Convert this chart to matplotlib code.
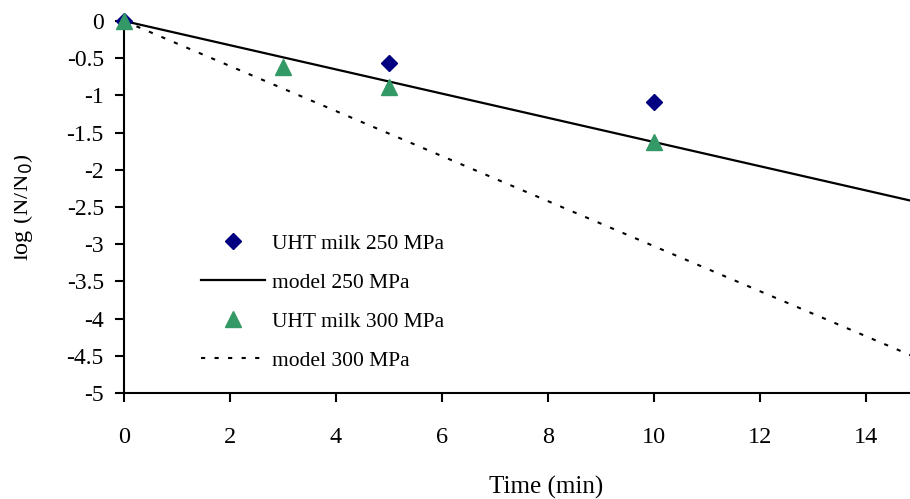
import matplotlib.pyplot as plt
from matplotlib.patches import Rectangle

# data
time_250 = [0, 5, 10]
logn_250 = [0, -0.57, -1.09]
time_300 = [0, 3, 5, 10]
logn_300 = [0, -0.62, -0.89, -1.62]
model_t = [0, 15]
model_250 = [0, -2.44]
model_300 = [0, -4.54]

xticks = [0, 2, 4, 6, 8, 10, 12, 14]
yticks = [0, -0.5, -1, -1.5, -2, -2.5, -3, -3.5, -4, -4.5, -5]
ytick_labels = ['0', '-0.5', '-1', '-1.5', '-2', '-2.5', '-3', '-3.5', '-4', '-4.5', '-5']

plt.rcParams['font.family'] = ['Liberation Serif', 'DejaVu Serif']

fig = plt.figure(figsize=(9.1, 4.99), dpi=100)
ax = fig.add_axes([124 / 910, 1 - 393 / 499, 1 - 124 / 910, (393 - 21) / 499])

ax.plot(time_250, logn_250, linestyle='none', marker='D', markersize=8,
        color='#000080', label='UHT milk 250 MPa', clip_on=False, zorder=3)
ax.plot(model_t, model_250, color='black', lw=1.6, label='model 250 MPa')
ax.plot(time_300, logn_300, linestyle='none', marker='^', markersize=11,
        color='#339966', label='UHT milk 300 MPa', clip_on=False, zorder=4)
ax.plot(model_t, model_300, color='black', lw=1.5, dashes=(2, 4.5), label='model 300 MPa')

ax.set_xlim(0, (910 - 124) / 53)
ax.set_ylim(-5, 0)
ax.set_xticks(xticks)
ax.set_yticks(yticks)
ax.set_yticklabels(ytick_labels)
ax.tick_params(axis='x', direction='out', length=6.5, width=1.5, pad=18, labelsize=17.5)
ax.tick_params(axis='y', direction='out', length=6.5, width=1.5, pad=8, labelsize=17)
for s in ['top', 'right']:
    ax.spines[s].set_visible(False)
for s in ['left', 'bottom']:
    ax.spines[s].set_linewidth(1.5)

leg = ax.legend(loc='upper left', bbox_to_anchor=(68 / 786, (393 - 225) / 372),
                frameon=False, fontsize=15.5, handlelength=3.0, handletextpad=0.32,
                labelspacing=0.88, borderaxespad=0)

fig.text(546 / 910, 1 - 487 / 499, 'Time (min)', ha='center', va='center', fontsize=18)
fig.text(35 / 910, 1 - 207 / 499, 'log (N/N$_0$)', ha='right', va='center',
         rotation=90, fontsize=17.5, zorder=3)
# the reference cuts off the left edge of the y label
fig.patches.append(Rectangle((0, 0), 14 / 910, 1, transform=fig.transFigure,
                             facecolor='white', edgecolor='none', zorder=10))

fig.savefig('out.png', dpi=100)
